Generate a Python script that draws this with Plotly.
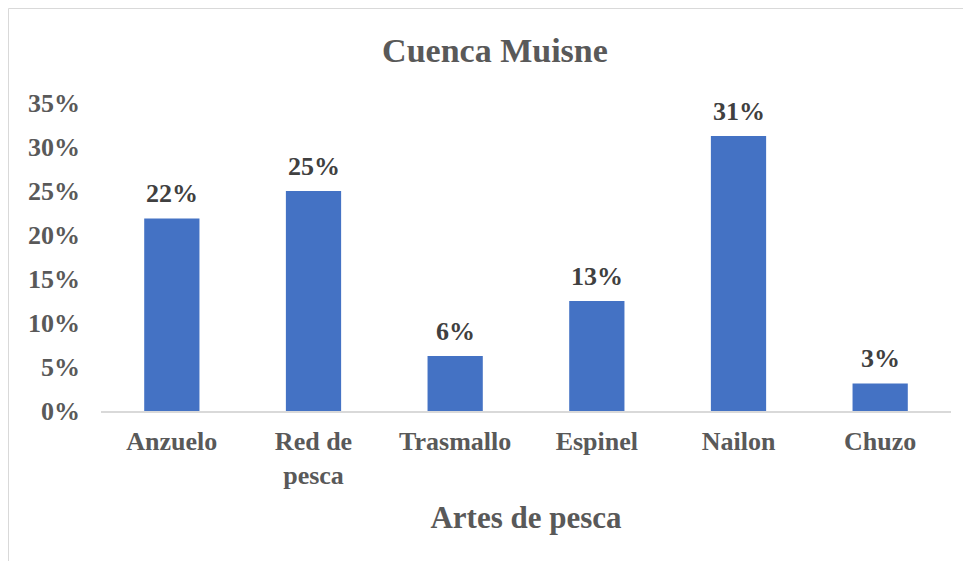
import plotly.graph_objects as go

categories = ["Anzuelo", "Red de<br>pesca", "Trasmallo", "Espinel", "Nailon", "Chuzo"]
values = [0.21875, 0.25, 0.0625, 0.125, 0.3125, 0.03125]
y_ticks = [0, 0.05, 0.10, 0.15, 0.20, 0.25, 0.30, 0.35]
y_tick_labels = ["0%", "5%", "10%", "15%", "20%", "25%", "30%", "35%"]

FONT = "Liberation Serif, Times New Roman, serif"

# plot area in figure pixels
L, R, T, B = 93, 28, 95, 158
W, H = 971, 561
PW = W - L - R
PH = H - T - B

fig = go.Figure(
    go.Bar(
        x=categories,
        y=values,
        marker=dict(color="#4472C4", line=dict(width=0)),
        cliponaxis=False,
        hoverinfo="x+y",
    )
)

for c, v in zip(categories, values):
    fig.add_annotation(
        x=c, y=v, xref="x", yref="y",
        text=f"<b>{int(v * 100 + 0.5)}%</b>",
        showarrow=False, yanchor="middle", yshift=25,
        font=dict(family=FONT, size=26, color="#404040"),
    )

fig.update_layout(
    width=W,
    height=H,
    margin=dict(l=L, r=R, t=T, b=B),
    paper_bgcolor="white",
    plot_bgcolor="white",
    bargap=0.61,
    showlegend=False,
    title=dict(
        text="<b>Cuenca Muisne</b>",
        font=dict(family=FONT, size=34, color="#595959"),
        x=0.4635, xref="paper", xanchor="center",
        y=1 - 42 / H, yref="container", yanchor="middle",
    ),
    xaxis=dict(
        showline=True, linecolor="#d9d9d9", linewidth=1.5,
        showgrid=False, ticks="", zeroline=False,
        tickfont=dict(family=FONT, size=26, color="#595959", weight="bold"),
        ticklabelstandoff=6,
        title=dict(text="<b>Artes de pesca</b>",
                   font=dict(family=FONT, size=31, color="#595959"),
                   standoff=18),
        automargin=False,
    ),
    yaxis=dict(
        range=[0, 0.35],
        tickvals=y_ticks, ticktext=y_tick_labels,
        showgrid=False, zeroline=False, showline=False, ticks="",
        tickfont=dict(family=FONT, size=26, color="#595959", weight="bold"),
        ticklabelstandoff=20,
        automargin=False,
    ),
    shapes=[
        dict(type="rect", xref="paper", yref="paper",
             x0=(0.5 - L) / PW, x1=(W + 10 - L) / PW,
             y0=-(B + 10) / PH, y1=(PH + T - 0.5) / PH,
             line=dict(color="#d9d9d9", width=1), layer="below")
    ],
)

fig.write_html("out.html")
